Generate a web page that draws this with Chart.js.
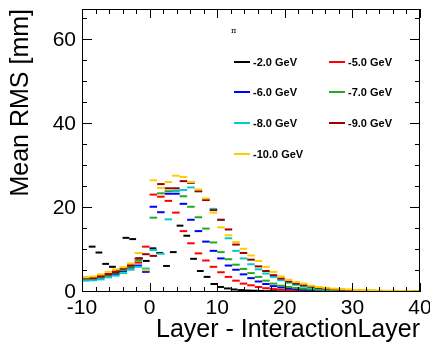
<!DOCTYPE html>
<html>
<head>
<meta charset="utf-8">
<script src="https://cdn.jsdelivr.net/npm/chart.js@4.4.1/dist/chart.umd.min.js"></script>
<style>
  html, body { margin: 0; padding: 0; background: #fff; }
  #wrap { width: 430px; height: 346px; }
</style>
</head>
<body>
<div id="wrap"><canvas id="c" width="430" height="346"></canvas></div>
<script>
// axis range, histogram bins span xMin..xMax (bin width = range / number of values)
const xMin = -10, xMax = 40;
const yMax = 67.4;
const xTickLabels = [-10, 0, 10, 20, 30, 40];
const yTickLabels = [0, 20, 40, 60];

const energies = ['-2.0 GeV', '-5.0 GeV', '-6.0 GeV', '-7.0 GeV', '-8.0 GeV', '-9.0 GeV', '-10.0 GeV'];

// mean RMS per bin
const rms2 = [3.4, 10.8, 9.4, 6.7, 6.0, 5.0, 12.9, 12.6, 8.0, 7.4,
  10.4, 9.3, 6.2, 9.5, 15.8, 13.4, 7.9, 5.0, 3.6, 1.9,
  1.2, 0.85, 0.6, 0.45, 0.35, 0.3, 0.25, 0.2, 0.2, 0.15,
  0.15, 0.12, 0.1, 0.1, 0.1, 0.08, 0.08, 0.05, 0.05, 0.05,
  0.05, 0.05, 0.05, 0.05, 0.05, 0.05, 0.05, 0.05, 0.05, 0.05];
const rms5 = [3.2, 3.4, 3.8, 4.3, 4.9, 5.4, 6.4, 7.0, 10.8,
  23.2, 22.7, 21.7, 18.9, 14.5, 11.6, 9.2, 7.5, 6.0, 4.7,
  3.6, 2.7, 2.0, 1.6, 1.2, 0.9, 0.7, 0.55, 0.45, 0.35,
  0.3, 0.25, 0.2, 0.2, 0.15, 0.15, 0.12, 0.1, 0.1, 0.1,
  0.08, 0.08, 0.08, 0.05, 0.05, 0.05];
const rms6 = [3.0, 3.0, 3.4, 3.9, 4.3, 5.0, 5.8, 6.3, 4.8,
  20.3, 19.0, 23.4, 23.4, 21.0, 17.2, 14.5, 12.0, 9.8, 8.0,
  6.3, 5.3, 4.2, 3.3, 2.5, 1.9, 1.4, 1.1, 0.85, 0.7,
  0.55, 0.45, 0.4, 0.35, 0.3, 0.25, 0.22, 0.2, 0.18, 0.15,
  0.15, 0.12, 0.12, 0.1, 0.1, 0.1];
const rms7 = [3.1, 3.2, 3.5, 4.0, 4.6, 5.2, 6.0, 7.5, 5.4,
  17.7, 23.5, 24.0, 24.1, 22.8, 20.3, 17.8, 15.1, 11.8, 9.5,
  7.8, 6.5, 5.5, 4.5, 3.6, 2.7, 2.0, 1.5, 1.2, 0.95,
  0.8, 0.65, 0.55, 0.45, 0.4, 0.35, 0.3, 0.25, 0.22, 0.2,
  0.18, 0.15, 0.15, 0.12, 0.12, 0.1];
const rms8 = [2.7, 2.8, 3.0, 3.5, 3.9, 4.5, 5.3, 6.0, 5.6,
  10.0, 9.1, 17.3, 24.0, 24.3, 24.9, 24.0, 22.0, 19.8, 17.2,
  12.8, 9.8, 8.0, 6.6, 5.4, 4.4, 3.6, 2.8, 2.2, 1.7,
  1.3, 1.0, 0.8, 0.65, 0.55, 0.45, 0.4, 0.35, 0.3, 0.25,
  0.22, 0.2, 0.18, 0.15, 0.15, 0.12];
const rms9 = [3.3, 3.3, 3.7, 4.2, 4.7, 5.6, 6.3, 8.0, 9.0,
  8.6, 25.7, 24.7, 24.7, 26.4, 26.0, 24.0, 21.9, 19.5, 17.2,
  14.9, 11.3, 9.3, 7.7, 6.1, 5.0, 4.0, 3.2, 2.5, 2.0,
  1.6, 1.3, 1.0, 0.8, 0.65, 0.55, 0.45, 0.4, 0.35, 0.3,
  0.25, 0.22, 0.2, 0.18, 0.15, 0.15];
const rms10 = [3.5, 3.7, 4.2, 4.8, 5.4, 5.9, 6.8, 9.3, 5.2,
  26.6, 24.8, 26.2, 27.7, 27.4, 26.2, 24.4, 22.3, 18.9, 15.4,
  13.5, 11.9, 10.3, 8.7, 7.4, 6.0, 4.8, 3.7, 2.9, 2.4,
  2.0, 1.5, 1.2, 1.0, 0.8, 0.7, 0.6, 0.5, 0.45, 0.4,
  0.35, 0.3, 0.3, 0.25, 0.25, 0.2];

const allSeries = [rms2, rms5, rms6, rms7, rms8, rms9, rms10];
const colors = ['#000000', '#ff0000', '#0000ff', '#22aa22', '#00cccc', '#990000', '#ffcc00'];

const datasets = allSeries.map((vals, k) => {
  const w = (xMax - xMin) / vals.length;
  return {
    label: energies[k],
    binWidth: w,
    data: vals.map((v, i) => ({ x: xMin + (i + 0.5) * w, y: v })),
    showLine: false,
    pointStyle: 'line',
    borderColor: colors[k],
    backgroundColor: colors[k],
    pointBorderWidth: 2,
    pointRadius: ctx => {
      const s = ctx.chart.scales.x;
      return (s.getPixelForValue(xMin + ctx.dataset.binWidth) - s.getPixelForValue(xMin)) / 2;
    },
    order: allSeries.length - k
  };
});

// ROOT style frame, inside ticks and the legend box
const rootFrame = {
  id: 'rootFrame',
  afterDatasetsDraw(chart) {
    const { ctx, chartArea: a, scales: { x, y } } = chart;
    ctx.save();
    ctx.strokeStyle = '#000';
    ctx.lineWidth = 1;
    ctx.strokeRect(a.left + 0.5, a.top + 0.5, a.right - a.left - 1, a.bottom - a.top - 1);
    ctx.beginPath();
    for (let v = xMin; v <= xMax; v += 2) {
      const px = Math.round(x.getPixelForValue(v)) + 0.5;
      const len = v % 10 === 0 ? 9 : 5;
      ctx.moveTo(px, a.bottom); ctx.lineTo(px, a.bottom - len);
      ctx.moveTo(px, a.top); ctx.lineTo(px, a.top + len);
    }
    for (let v = 0; v <= yMax; v += 5) {
      const py = Math.round(y.getPixelForValue(v)) - 0.5;
      const len = v % 20 === 0 ? 10 : 5;
      ctx.moveTo(a.left, py); ctx.lineTo(a.left + len, py);
      ctx.moveTo(a.right, py); ctx.lineTo(a.right - len, py);
    }
    ctx.stroke();

    ctx.fillStyle = '#000';
    ctx.font = '8px "DejaVu Serif", serif';
    ctx.textBaseline = 'middle';
    ctx.fillText('\u03c0', 231, 31);

    ctx.font = 'bold 11px "Liberation Sans", Arial, sans-serif';
    const colX = [234, 329], rowY = [62, 92, 123, 154];
    chart.data.datasets.forEach((d, i) => {
      const lx = colX[i % 2], ly = rowY[Math.floor(i / 2)];
      ctx.strokeStyle = d.borderColor;
      ctx.lineWidth = 2;
      ctx.beginPath();
      ctx.moveTo(lx, ly); ctx.lineTo(lx + 16, ly);
      ctx.stroke();
      ctx.fillStyle = '#000';
      ctx.fillText(d.label, lx + 19, ly + 0.5);
    });
    ctx.restore();
  }
};

const font = '"Liberation Sans", Arial, Helvetica, sans-serif';

new Chart(document.getElementById('c'), {
  type: 'scatter',
  data: { datasets },
  options: {
    responsive: false,
    animation: false,
    events: [],
    layout: { padding: { top: 9, right: 10, left: 0, bottom: 0 } },
    plugins: { legend: { display: false }, tooltip: { enabled: false } },
    scales: {
      x: {
        type: 'linear', min: xMin, max: xMax,
        grid: { display: false, drawTicks: false },
        border: { display: false },
        afterBuildTicks: s => { s.ticks = xTickLabels.map(v => ({ value: v })); },
        afterFit: s => { s.height = 54; s.paddingLeft = 0; s.paddingRight = 0; },
        ticks: { color: '#000', font: { family: font, size: 21 }, padding: 4, maxRotation: 0, autoSkip: false },
        title: { display: true, text: 'Layer - InteractionLayer', align: 'end', color: '#000',
                 font: { family: font, size: 25 }, padding: { top: 0, bottom: 1 } }
      },
      y: {
        type: 'linear', min: 0, max: yMax,
        grid: { display: false, drawTicks: false },
        border: { display: false },
        afterBuildTicks: s => { s.ticks = yTickLabels.map(v => ({ value: v })); },
        afterFit: s => { s.width = 82; s.paddingTop = 0; s.paddingBottom = 0; },
        ticks: { color: '#000', font: { family: font, size: 21 }, padding: 6 },
        title: { display: true, text: 'Mean RMS [mm]', align: 'end', color: '#000',
                 font: { family: font, size: 25 }, padding: { top: 6, bottom: 0 } }
      }
    }
  },
  plugins: [rootFrame]
});
</script>
</body>
</html>
